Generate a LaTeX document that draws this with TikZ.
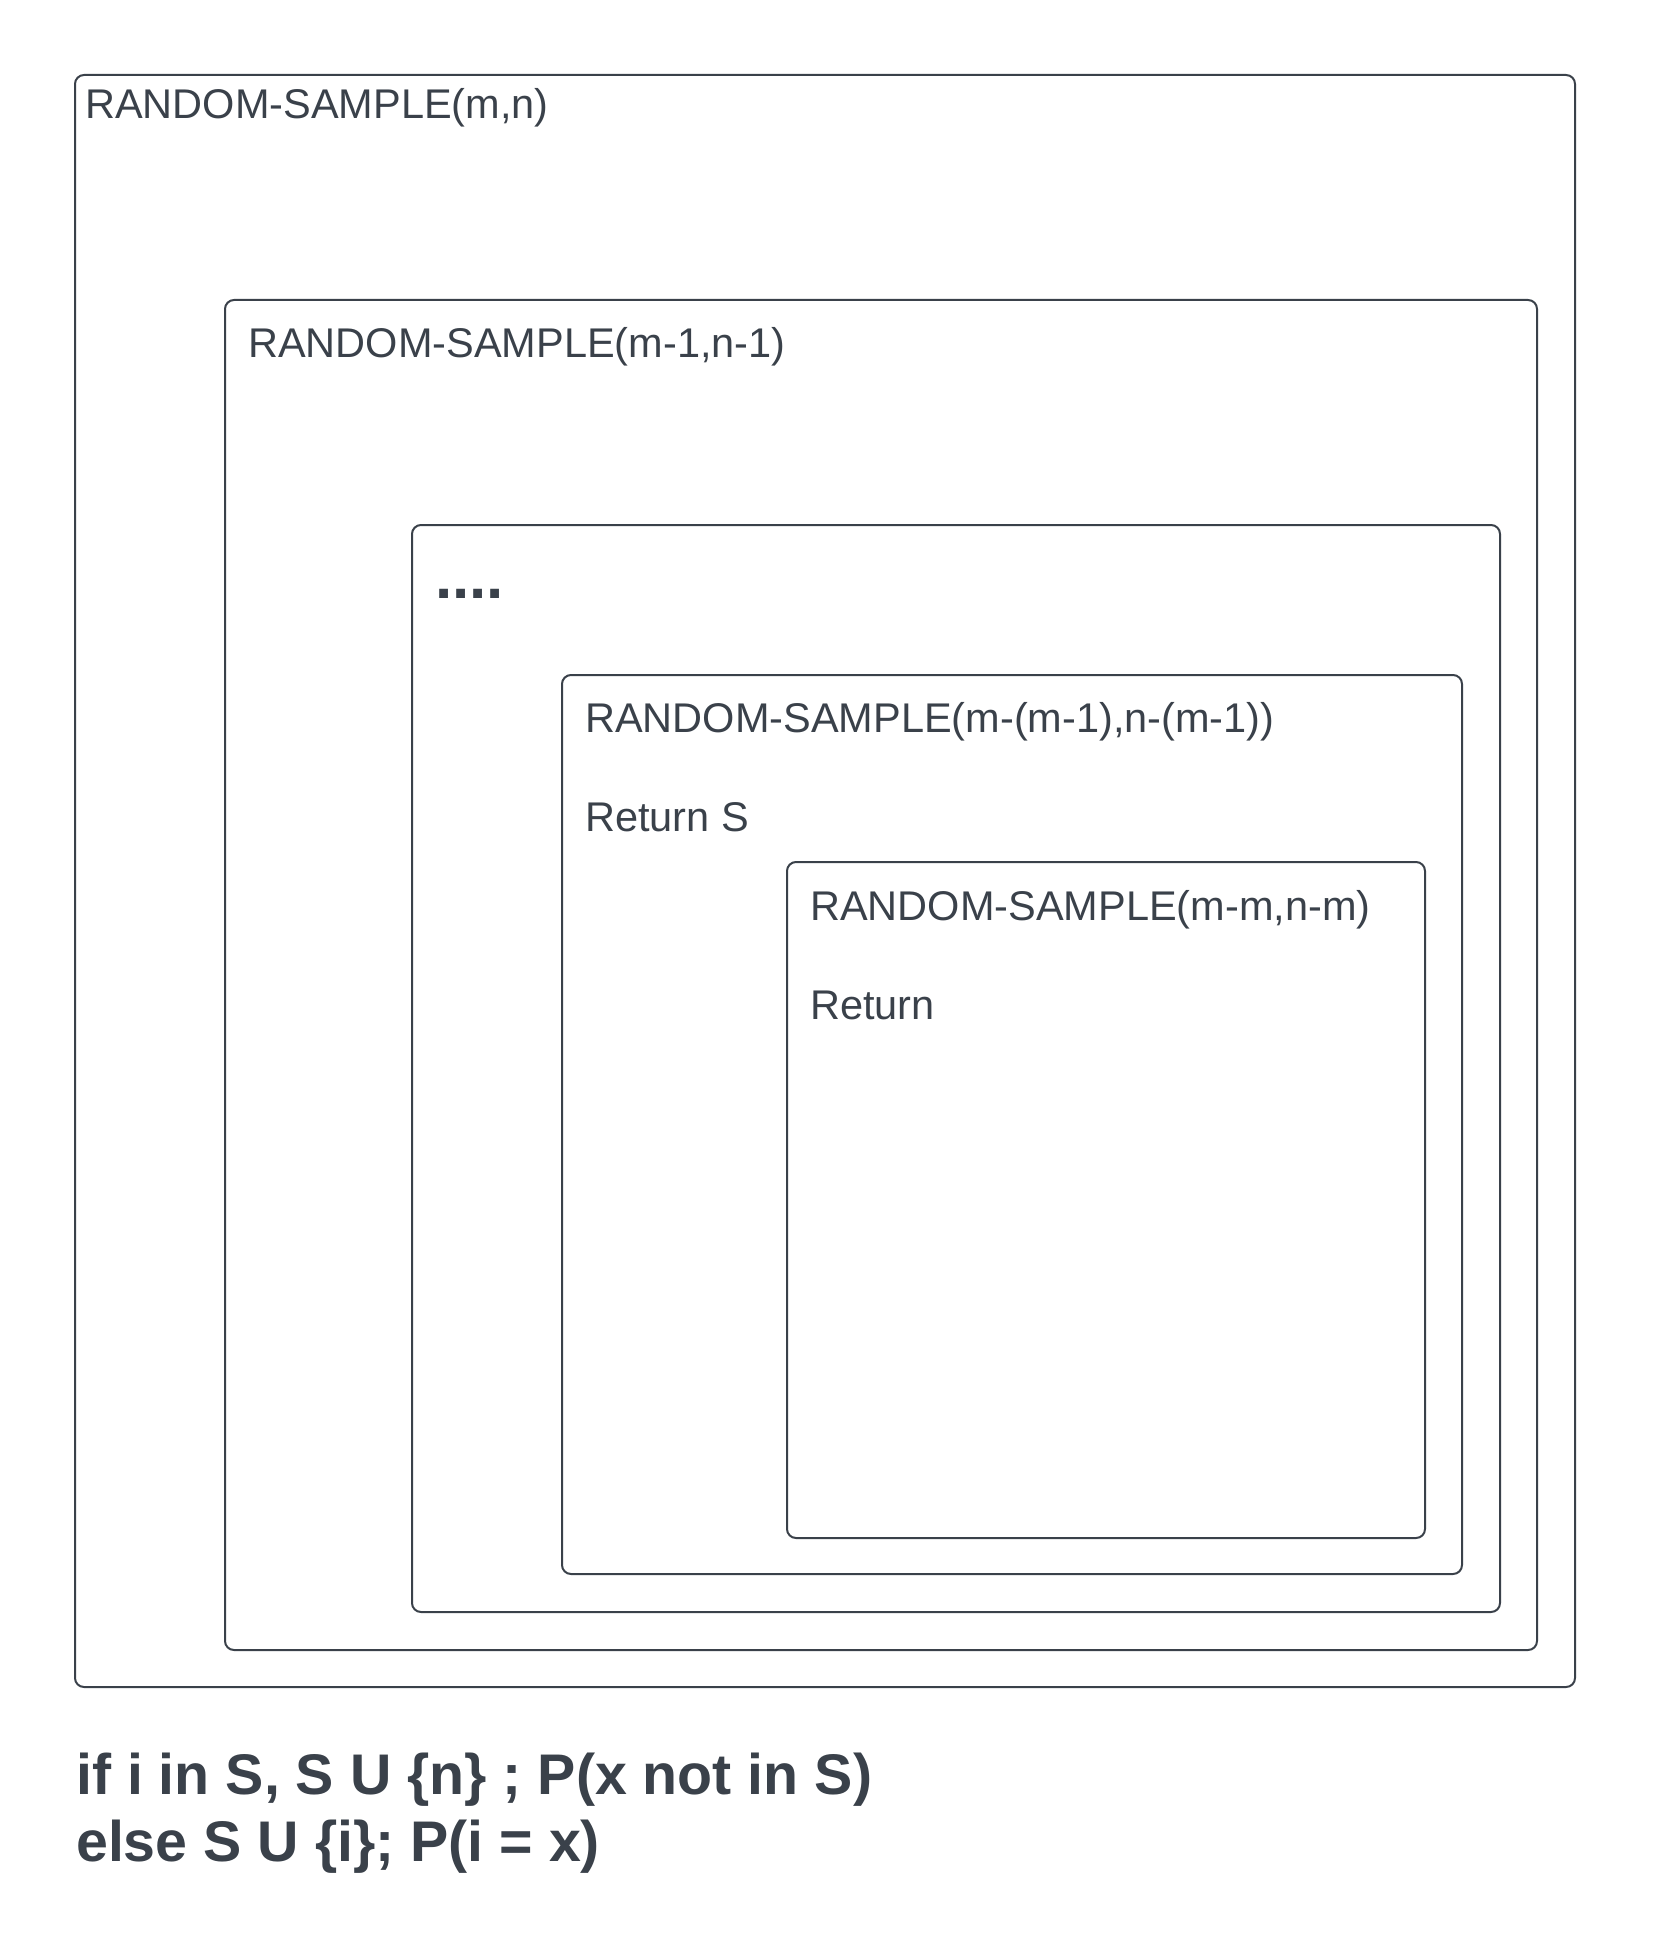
\documentclass[tikz,border=0pt]{standalone}
\usepackage{fontspec}
\setmainfont{Liberation Sans}
\definecolor{ink}{HTML}{3A414A}
\begin{document}
\begin{tikzpicture}[x=1pt,y=-1pt,
  box/.style={draw=ink, line width=2pt, rounded corners=9pt, anchor=north west, inner sep=0pt, outer sep=0pt},
  lbl/.style={anchor=base west, inner sep=0pt, text=ink, font=\fontsize{41.5}{50}\selectfont},
  bold/.style={anchor=base west, inner sep=0pt, text=ink, font=\fontsize{57.3}{67}\selectfont\bfseries, align=left}]
\useasboundingbox (0,0) rectangle (1652,1950);
\node[box, minimum width=1500pt, minimum height=1612pt] (b1) at (75,75) {};
\node[box, minimum width=1312pt, minimum height=1350pt] (b2) at (225,300) {};
\node[box, minimum width=1088pt, minimum height=1087pt] (b3) at (412,525) {};
\node[box, minimum width=900pt, minimum height=899pt] (b4) at (562,675) {};
\node[box, minimum width=638pt, minimum height=676pt] (b5) at (787,862) {};
\node[lbl] (t1) at (85,119) {RANDOM-SAMPLE(m,n)};
\node[lbl] (t2) at (248,357) {RANDOM-SAMPLE(m-1,n-1)};
\node[bold, font=\fontsize{62}{70}\selectfont\bfseries] (t3) at (435,598) {....};
\node[lbl] (t4) at (585,732) {RANDOM-SAMPLE(m-(m-1),n-(m-1))};
\node[lbl] (t5) at (585,831) {Return S};
\node[lbl] (t6) at (810,920) {RANDOM-SAMPLE(m-m,n-m)};
\node[lbl] (t7) at (810,1019) {Return};
\node[bold] (t8) at (76,1794) {if i in S, S U \{n\} ; P(x not in S)};
\node[bold] (t9) at (76,1861) {else S U \{i\}; P(i = x)};
\end{tikzpicture}
\end{document}
